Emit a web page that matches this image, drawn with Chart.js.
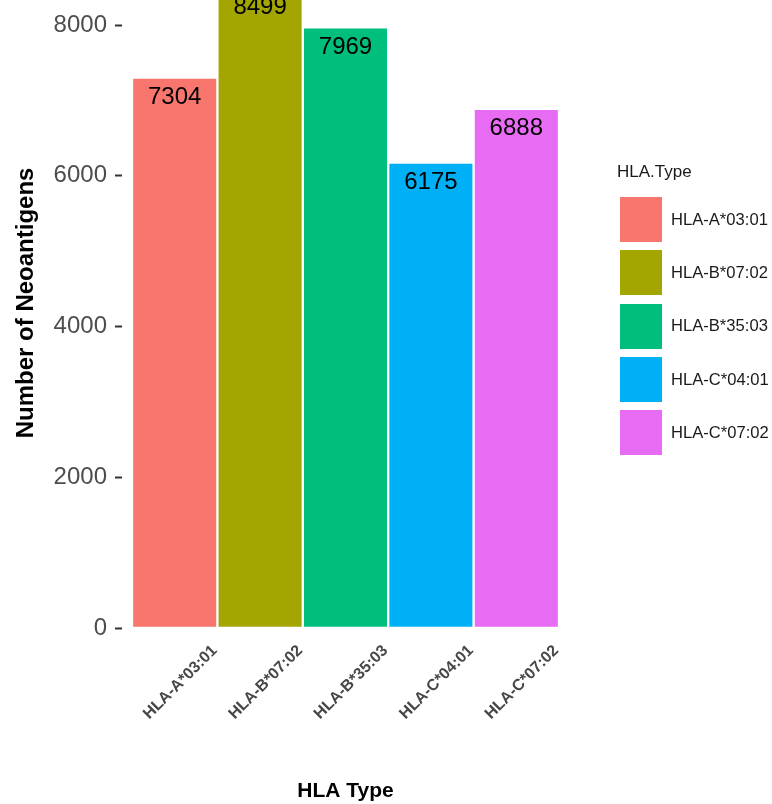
<!DOCTYPE html>
<html>
<head>
<meta charset="utf-8">
<script src="https://cdn.jsdelivr.net/npm/chart.js@4.4.1/dist/chart.umd.min.js"></script>
<style>
  html, body { margin: 0; padding: 0; background: #fff; }
  #wrap { position: relative; width: 772px; height: 804px; overflow: hidden; font-family: 'Liberation Sans', Arial, sans-serif; }
  #chart { position: absolute; left: 0; top: -40px; }
  #legend { position: absolute; left: 617px; top: 160px; }
  #legend .title { font-size: 17px; color: #1a1a1a; height: 24px; line-height: 24px; margin-bottom: 9px; }
  #legend .item { display: flex; align-items: center; height: 53.3px; }
  #legend .box { width: 42px; height: 45px; margin-left: 3px; margin-right: 9px; }
  #legend .lab { font-size: 16.6px; color: #1a1a1a; }
</style>
</head>
<body>
<div id="wrap">
  <canvas id="chart" width="772" height="844"></canvas>
  <div id="legend"></div>
</div>
<script>
const hlaTypes = ['HLA-A*03:01', 'HLA-B*07:02', 'HLA-B*35:03', 'HLA-C*04:01', 'HLA-C*07:02'];
const neoantigens = [7304, 8499, 7969, 6175, 6888];
const barColors = ['#F8766D', '#A3A500', '#00BF7D', '#00B0F6', '#E76BF3'];
const yTicks = [0, 2000, 4000, 6000, 8000];

const FONT = "'Liberation Sans', Arial, sans-serif";

// value labels inside the top of each bar
const barLabels = {
  id: 'barLabels',
  afterDatasetsDraw(chart) {
    const ctx = chart.ctx;
    const meta = chart.getDatasetMeta(0);
    ctx.save();
    ctx.font = '24px ' + FONT;
    ctx.fillStyle = '#000';
    ctx.textAlign = 'center';
    ctx.textBaseline = 'middle';
    meta.data.forEach((bar, i) => {
      ctx.fillText(String(neoantigens[i]), bar.x, bar.y + 20);
    });
    ctx.restore();
  }
};

new Chart(document.getElementById('chart'), {
  type: 'bar',
  data: {
    labels: hlaTypes,
    datasets: [{
      data: neoantigens,
      backgroundColor: barColors,
      borderColor: '#ffffff',
      borderWidth: 1.5,
      borderSkipped: false,
      categoryPercentage: 1,
      barPercentage: 1
    }]
  },
  options: {
    responsive: false,
    animation: false,
    layout: { padding: { top: 17.5, right: 213, bottom: 0, left: 0 } },
    plugins: { legend: { display: false }, tooltip: { enabled: false } },
    scales: {
      x: {
        offset: true,
        grid: { display: false, drawTicks: false },
        border: { display: false },
        ticks: {
          autoSkip: false,
          minRotation: 45,
          maxRotation: 45,
          labelOffset: 40,
          padding: 13,
          color: '#474747',
          font: { family: FONT, size: 16, weight: 'bold' }
        },
        title: {
          display: true,
          text: 'HLA Type',
          color: '#000',
          padding: 0,
          font: { family: FONT, size: 21, weight: 'bold' }
        },
        afterFit(s) {
          s.height = 175.7;
          s.paddingLeft = 0;
          s.paddingRight = 0;
        }
      },
      y: {
        min: 0,
        max: 8630,
        grid: {
          drawOnChartArea: false,
          drawTicks: true,
          tickLength: 17,
          tickWidth: 2,
          tickColor: '#333333',
          tickBorderDash: [7, 30]
        },
        border: { display: false },
        ticks: {
          padding: 8,
          color: '#4d4d4d',
          font: { family: FONT, size: 24 },
          callback: v => String(v)
        },
        title: {
          display: true,
          text: 'Number of Neoantigens',
          color: '#000',
          padding: { top: 12, bottom: 0 },
          font: { family: FONT, size: 24, weight: 'bold' }
        },
        afterBuildTicks(s) {
          s.ticks = yTicks.map(v => ({ value: v }));
        },
        afterFit(s) {
          s.width = 132;
          s.paddingTop = 0;
          s.paddingBottom = 0;
        }
      }
    }
  },
  plugins: [barLabels]
});

// legend
const legend = document.getElementById('legend');
const title = document.createElement('div');
title.className = 'title';
title.textContent = 'HLA.Type';
legend.appendChild(title);
hlaTypes.forEach((name, i) => {
  const item = document.createElement('div');
  item.className = 'item';
  item.innerHTML = `<div class="box" style="background:${barColors[i]}"></div><span class="lab">${name}</span>`;
  legend.appendChild(item);
});
</script>
</body>
</html>
